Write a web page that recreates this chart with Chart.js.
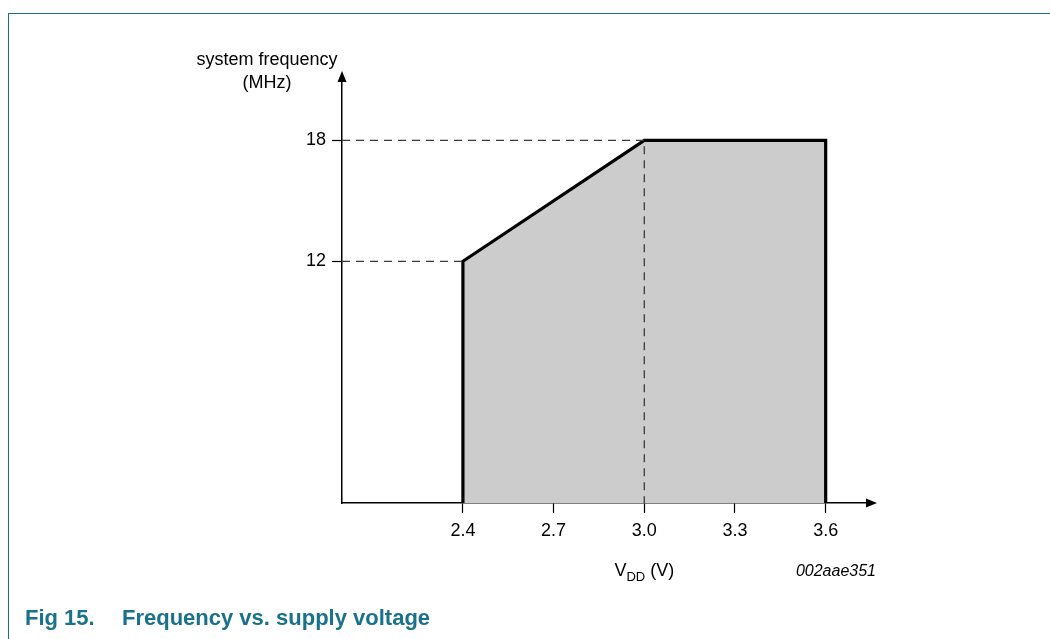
<!DOCTYPE html>
<html lang="en">
<head>
  <meta charset="UTF-8">
  <title>Frequency vs. supply voltage</title>
  <script src="https://cdn.jsdelivr.net/npm/chart.js"></script>
  <style>
    html, body { margin: 0; padding: 0; background: #fff; }
    #wrap { position: relative; width: 1050px; height: 639px; overflow: hidden; }
    #frame { position: absolute; left: 8px; top: 13px; right: 0; bottom: 0;
             border-left: 1.5px solid #1b6f86; border-top: 1.5px solid #1b6f86; }
    .cap { position: absolute; top: 605px; white-space: pre;
           font: bold 22px "Liberation Sans", Arial, sans-serif; color: #19718b; }
    canvas { position: absolute; left: 0; top: 0; }
  </style>
</head>
<body>
  <div id="wrap">
    <div id="frame"></div>
    <canvas id="myChart" width="1050" height="639"></canvas>
    <div class="cap" style="left:25px">Fig 15.</div>
    <div class="cap" style="left:122px">Frequency vs. supply voltage</div>
  </div>
  <script>
// operating region outline (V, MHz)
const regionV = [2.4, 2.4, 3.0, 3.6, 3.6];
const regionF = [0, 12, 18, 18, 0];

// dashed guide lines
const guide18V = [2.0, 3.0, 3.0];
const guide18F = [18, 18, 0];
const guide12V = [2.0, 2.4];
const guide12F = [12, 12];

// tick labels
const xTicks = [2.4, 2.7, 3.0, 3.3, 3.6];
const yTicks = [12, 18];

const pts = (xs, ys) => xs.map((x, i) => ({ x: x, y: ys[i] }));
const FONT = '"Liberation Sans", Arial, sans-serif';

// axis arrows and axis captions
const decorations = {
  id: 'decorations',
  afterDraw(chart) {
    const ctx = chart.ctx;
    const a = chart.chartArea;
    const xs = chart.scales.x;
    ctx.save();
    ctx.fillStyle = '#000';
    // x arrow
    ctx.beginPath();
    ctx.moveTo(a.right - 2, a.bottom - 4.5);
    ctx.lineTo(a.right + 9, a.bottom);
    ctx.lineTo(a.right - 2, a.bottom + 4.5);
    ctx.closePath();
    ctx.fill();
    // y arrow
    ctx.beginPath();
    ctx.moveTo(a.left - 4.5, a.top + 2);
    ctx.lineTo(a.left, a.top - 9);
    ctx.lineTo(a.left + 4.5, a.top + 2);
    ctx.closePath();
    ctx.fill();

    // y title
    ctx.textAlign = 'center';
    ctx.textBaseline = 'alphabetic';
    ctx.font = '18px ' + FONT;
    ctx.fillText('system frequency', a.left - 75, 65);
    ctx.fillText('(MHz)', a.left - 75, 88);

    // x title: V_DD (V)
    const cx = xs.getPixelForValue(3.0);
    ctx.font = '18px ' + FONT;
    const wV = ctx.measureText('V').width;
    const wP = ctx.measureText(' (V)').width;
    ctx.font = '13px ' + FONT;
    const wD = ctx.measureText('DD').width;
    let x0 = cx - (wV + wD + wP) / 2;
    ctx.textAlign = 'left';
    ctx.font = '18px ' + FONT;
    ctx.fillText('V', x0, 576);
    ctx.font = '13px ' + FONT;
    ctx.fillText('DD', x0 + wV, 581);
    ctx.font = '18px ' + FONT;
    ctx.fillText(' (V)', x0 + wV + wD, 576);

    // figure code
    ctx.textAlign = 'right';
    ctx.font = 'italic 16px ' + FONT;
    ctx.fillText('002aae351', 876, 576);
    ctx.restore();
  }
};

const guideStyle = {
  showLine: true,
  borderColor: '#3a3a3a',
  borderWidth: 1.3,
  borderDash: [8, 6],
  pointRadius: 0,
  fill: false,
  order: 1
};

const ctx = document.getElementById('myChart').getContext('2d');
new Chart(ctx, {
  type: 'scatter',
  data: {
    datasets: [
      Object.assign({ data: pts(guide18V, guide18F) }, guideStyle),
      Object.assign({ data: pts(guide12V, guide12F) }, guideStyle),
      {
        data: pts(regionV, regionF),
        showLine: true,
        borderColor: '#000',
        borderWidth: 3.2,
        backgroundColor: '#cccccc',
        fill: 'origin',
        pointRadius: 0,
        tension: 0,
        order: 2
      }
    ]
  },
  options: {
    responsive: false,
    animation: false,
    events: [],
    layout: { padding: { top: 80, right: 182, bottom: 0, left: 0 } },
    plugins: {
      legend: { display: false },
      tooltip: { enabled: false },
      title: { display: false }
    },
    scales: {
      x: {
        type: 'linear',
        min: 2.0,
        max: 3.74,
        afterBuildTicks: s => { s.ticks = xTicks.map(v => ({ value: v })); },
        afterFit: s => { s.height = 136; },
        ticks: {
          color: '#000',
          font: { family: FONT, size: 18 },
          padding: 7,
          autoSkip: false,
          maxRotation: 0,
          callback: v => v.toFixed(1)
        },
        grid: {
          drawOnChartArea: false,
          drawTicks: true,
          tickLength: 10,
          tickColor: '#000',
          tickWidth: 1.2
        },
        border: { display: true, color: '#000', width: 1.5 }
      },
      y: {
        type: 'linear',
        min: 0,
        max: 21,
        afterBuildTicks: s => { s.ticks = yTicks.map(v => ({ value: v })); },
        afterFit: s => { s.width = 342; },
        ticks: {
          color: '#000',
          font: { family: FONT, size: 18 },
          padding: 6,
          autoSkip: false
        },
        grid: {
          drawOnChartArea: false,
          drawTicks: true,
          tickLength: 10,
          tickColor: '#000',
          tickWidth: 1.2
        },
        border: { display: true, color: '#000', width: 1.5 }
      }
    }
  },
  plugins: [decorations]
});
  </script>
</body>
</html>
